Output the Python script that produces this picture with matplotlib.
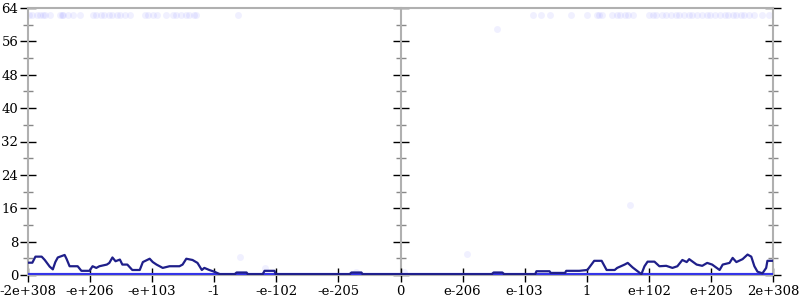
import matplotlib
matplotlib.use("Agg")
import matplotlib.pyplot as plt
import numpy as np

# x positions are in "tick units" of the pseudo-log axis (-6 .. 6)
tick_pos = [-6, -5, -4, -3, -2, -1, 0, 1, 2, 3, 4, 5, 6]
tick_labels = ["-2e+308", "-e+206", "-e+103", "-1", "-e-102", "-e-205", "0",
               "e-206", "e-103", "1", "e+102", "e+205", "2e+308"]
y_ticks = [0, 8, 16, 24, 32, 40, 48, 56, 64]

line_x = [-6.0, -5.93, -5.88, -5.78, -5.73, -5.65, -5.60, -5.56, -5.52, -5.41, -5.38,
          -5.33, -5.20, -5.14, -5.01, -4.96, -4.90, -4.85, -4.73, -4.69, -4.64, -4.59,
          -4.52, -4.48, -4.40, -4.32, -4.20, -4.15, -4.04, -3.99, -3.93, -3.83, -3.72,
          -3.56, -3.51, -3.45, -3.35, -3.27, -3.20, -3.16, -3.08, -3.00, -2.91, -2.67,
          -2.64, -2.48, -2.46, -2.22, -2.19, -2.03, -2.01, -0.82, -0.79, -0.63, -0.61,
          1.47, 1.50, 1.64, 1.67, 2.17, 2.19, 2.32, 2.40, 2.42, 2.65, 2.67, 2.88, 3.01,
          3.12, 3.24, 3.32, 3.45, 3.49, 3.61, 3.66, 3.74, 3.88, 3.93, 3.98, 4.09, 4.17,
          4.28, 4.38, 4.46, 4.54, 4.61, 4.65, 4.77, 4.86, 4.94, 5.02, 5.14, 5.19, 5.30,
          5.35, 5.41, 5.51, 5.59, 5.65, 5.70, 5.75, 5.83, 5.89, 5.91, 6.0]
line_y = [2.95, 2.95, 4.4, 4.4, 3.6, 2.0, 1.35, 3.1, 4.2, 4.8, 3.9,
          2.1, 2.1, 1.0, 1.0, 2.1, 1.7, 2.1, 2.5, 2.9, 4.2, 3.3,
          3.7, 2.5, 2.5, 1.2, 1.2, 3.1, 3.9, 3.1, 2.5, 1.7, 2.1,
          2.1, 2.5, 3.9, 3.6, 2.9, 1.2, 1.7, 1.2, 0.8, 0.2, 0.2,
          0.6, 0.6, 0.2, 0.2, 1.0, 1.0, 0.2, 0.2, 0.6, 0.6, 0.2,
          0.2, 0.6, 0.6, 0.2, 0.2, 0.9, 0.9, 0.9, 0.5, 0.5, 1.0, 1.0, 1.2,
          3.4, 3.4, 1.2, 1.2, 1.7, 2.5, 2.9, 1.8, 0.2, 2.1, 3.2, 3.2, 2.1,
          2.2, 1.7, 2.1, 3.6, 3.1, 3.8, 2.5, 2.2, 2.9, 2.5, 1.2, 2.5, 2.9,
          4.1, 3.1, 3.8, 4.9, 4.4, 2.1, 0.8, 0.4, 1.7, 3.4, 3.4]

zero_x = [-6.0, 6.0]
zero_y = [0.0, 0.0]

dots_x = [-5.99, -5.93, -5.86, -5.81, -5.76, -5.73, -5.65, -5.49, -5.46, -5.43, -5.36,
          -5.28, -5.17, -4.96, -4.90, -4.83, -4.77, -4.70, -4.64, -4.57, -4.52, -4.44,
          -4.36, -4.12, -4.06, -3.99, -3.93, -3.77, -3.67, -3.61, -3.53, -3.45, -3.40,
          -3.33, -3.29, -2.62,
          2.13, 2.27, 2.40, 2.75, 3.00, 3.16, 3.20, 3.25, 3.41, 3.48, 3.54, 3.61, 3.67,
          3.74, 4.01, 4.07, 4.12, 4.22, 4.28, 4.36, 4.43, 4.49, 4.57, 4.65, 4.70, 4.78,
          4.86, 4.93, 4.98, 5.06, 5.14, 5.22, 5.28, 5.35, 5.41, 5.48, 5.54, 5.62, 5.70,
          5.83, 5.94,
          1.55, 3.69, 1.07, -2.59, -2.19, -0.71, 0.05]
dots_y = [62.3] * 36 + [62.3] * 41 + [59.0, 16.8, 5.0, 4.3, 1.7, 0.8, 0.8]

serif = ["DejaVu Serif"]

fig = plt.figure(figsize=(8, 3), dpi=100)

# background axes carrying the centre axis at x = 0
ax2 = fig.add_axes([28 / 800, 25 / 300, 745 / 800, 267 / 300])
ax2.set_xlim(-6, 6)
ax2.set_ylim(0, 64)
for s in ["right", "top", "bottom"]:
    ax2.spines[s].set_visible(False)
ax2.spines["left"].set_position(("data", 0))
ax2.spines["left"].set_color("#b0b0b0")
ax2.spines["left"].set_linewidth(1.5)
ax2.set_xticks([])
ax2.set_yticks(y_ticks)
ax2.set_yticks([4, 12, 20, 28, 36, 44, 52, 60], minor=True)
ax2.tick_params(axis="y", which="major", direction="inout", length=12, width=1,
                color="black", labelleft=False)
ax2.tick_params(axis="y", which="minor", direction="inout", length=7, width=1,
                color="#888888", labelleft=False)

ax = fig.add_axes([28 / 800, 25 / 300, 745 / 800, 267 / 300])
ax.patch.set_visible(False)

ax.plot(dots_x, dots_y, "o", color="#3030ff", alpha=0.07, markersize=5,
        markeredgewidth=0, zorder=2)
ax.plot(zero_x, zero_y, color="#3535e8", linewidth=3, zorder=3, solid_capstyle="butt")
ax.plot(line_x, line_y, color="#1f1f8a", linewidth=1.6, zorder=4)

ax.set_xlim(-6, 6)
ax.set_ylim(0, 64)

for s in ["left", "right", "top", "bottom"]:
    ax.spines[s].set_color("#b0b0b0")
    ax.spines[s].set_linewidth(1.5)

ax.set_xticks(tick_pos)
ax.set_xticklabels(tick_labels, fontfamily=serif, fontsize=9.5)
ax.set_yticks(y_ticks)
ax.set_yticklabels([str(v) for v in y_ticks], fontfamily=serif, fontsize=9.5)
ax.set_yticks([4, 12, 20, 28, 36, 44, 52, 60], minor=True)
ax.tick_params(axis="x", direction="inout", length=10, width=1, color="black", pad=2)
ax.tick_params(axis="y", which="major", direction="inout", length=12, width=1,
               color="black", pad=1, right=True)
ax.tick_params(axis="y", which="minor", direction="inout", length=7, width=1,
               color="#888888", right=True)

fig.savefig("out.png", dpi=100)
